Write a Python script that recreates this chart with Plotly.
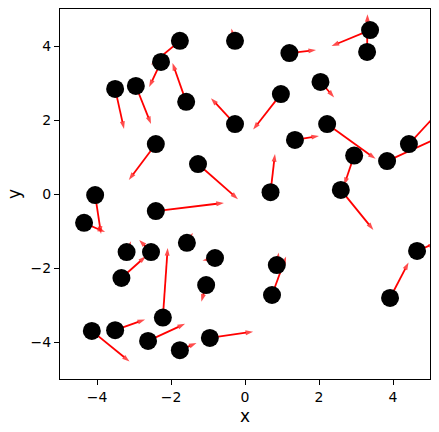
import plotly.graph_objects as go

# point positions
px = [-4.35, -4.05, -3.51, -2.95, -2.41, -2.27, -1.76, -1.59, -0.27, -0.27,
      -1.27, -2.41, -3.20, -2.54, -3.34, -1.57, -0.81, -1.05, -2.22, -4.14,
      -3.51, -2.62, -1.76, -0.95, 3.38, 3.30, 1.20, 2.04, 0.97, 2.22,
      1.35, 2.95, 3.84, 4.43, 0.69, 2.59, 0.86, 0.73, 4.65, 3.92]
py = [-0.78, -0.03, 2.84, 2.92, 1.35, 3.57, 4.14, 2.49, 4.14, 1.89,
      0.81, -0.46, -1.57, -1.57, -2.27, -1.32, -1.73, -2.46, -3.34, -3.70,
      -3.68, -3.97, -4.22, -3.89, 4.43, 3.84, 3.81, 3.03, 2.70, 1.89,
      1.46, 1.04, 0.89, 1.35, 0.05, 0.11, -1.92, -2.73, -1.54, -2.81]
# arrow vectors
u = [0.57, 0.16, 0.24, 0.41, -0.73, -0.32, -0.78, -0.37, -0.10, -0.65,
     1.08, 1.84, 0.12, -0.32, 0.66, 0.16, -0.34, -0.13, 0.13, 1.02,
     0.81, 1.00, 0.45, 1.17, -1.04, 0.01, 0.72, 0.37, -0.75, 1.31,
     0.65, -0.27, 1.43, 0.98, 0.12, 0.88, 0.05, 0.38, 0.51, 0.50]
v = [-0.25, -1.05, -1.08, -1.03, -0.97, -0.68, -0.65, 1.05, 0.33, 0.70,
     -0.95, 0.22, 0.29, 0.33, 0.59, 0.27, -0.07, -0.45, 1.88, -0.83,
     0.29, 0.46, 0.19, 0.17, -0.43, 1.02, 0.08, -0.42, -0.96, -0.94,
     0.11, -0.80, 0.65, 1.06, 1.03, -1.08, 0.34, 1.04, 0.22, 0.96]

tick_vals = [-4, -2, 0, 2, 4]
tick_text = ["\u22124", "\u22122", "0", "2", "4"]

ax, ay, asz = [], [], []
for x0, y0, du, dv in zip(px, py, u, v):
    ax += [x0, x0 + du, None]
    ay += [y0, y0 + dv, None]
    asz += [0, 8, 0]

fig = go.Figure()
fig.add_trace(go.Scatter(
    x=ax, y=ay, mode="lines+markers",
    line=dict(color="#ff0000", width=1.8),
    marker=dict(symbol="arrow", angleref="previous", size=asz, color="#ff0000",
                line=dict(width=0)),
    hoverinfo="skip", showlegend=False))
fig.add_trace(go.Scatter(
    x=px, y=py, mode="markers",
    marker=dict(color="black", size=18, line=dict(width=0)),
    showlegend=False))

axis_common = dict(
    range=[-5, 5], tickvals=tick_vals, ticktext=tick_text,
    showgrid=False, zeroline=False, showline=True, mirror=True,
    linecolor="black", linewidth=1, ticks="outside", ticklen=5,
    tickwidth=1, tickcolor="black", automargin=False,
    tickfont=dict(family="DejaVu Sans", size=14, color="black"),
)
fig.update_layout(
    width=439, height=432,
    margin=dict(l=60, r=9, t=9, b=53),
    plot_bgcolor="white", paper_bgcolor="white",
    font=dict(family="DejaVu Sans", size=14, color="black"),
    xaxis=dict(axis_common, title=dict(text="x", standoff=6)),
    yaxis=dict(axis_common, title=dict(text="y", standoff=5)),
)
fig.write_html("out.html", config={"displayModeBar": False},
               post_script="document.body.style.margin='0px';document.body.style.overflow='hidden';")
